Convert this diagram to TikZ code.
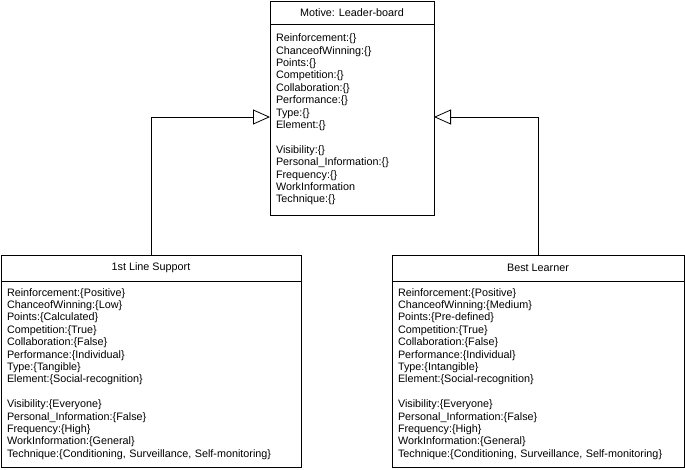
\documentclass[tikz,border=0pt]{standalone}
\usepackage{fontspec}
\setmainfont{Liberation Sans}
\usepackage{tikz}
\usetikzlibrary{arrows.meta,positioning}
\tikzset{
  every node/.append style={font=\fontsize{10.8}{12.4}\selectfont},
  classhead/.style={draw, line width=0.8pt, outer sep=0pt, inner sep=0pt, align=center},
  classattr/.style={draw, line width=0.8pt, outer sep=0pt, inner xsep=6pt, inner ysep=0pt, align=left},
  inherit/.style={-{Triangle[open, length=17pt, width=15pt]}, line width=0.8pt},
}
\begin{document}
\begin{tikzpicture}
  \useasboundingbox (0,0) rectangle (685pt,-470pt);
  % parent class
  \node[classhead, minimum width=164pt, minimum height=23pt] (motive) at (352pt,-12.5pt) {Motive: Leader-board};
  \node[classattr, below=0pt of motive, text width=152pt, minimum height=191pt] (motiveattr)
    {Reinforcement:\{\}\\ChanceofWinning:\{\}\\Points:\{\}\\Competition:\{\}\\Collaboration:\{\}\\Performance:\{\}\\Type:\{\}\\Element:\{\}\\[\baselineskip]
     Visibility:\{\}\\Personal\_Information:\{\}\\Frequency:\{\}\\WorkInformation\\Technique:\{\}};
  % child classes
  \node[classhead, minimum width=300pt, minimum height=26pt] (support) at (151pt,-268pt) {1st Line Support};
  \node[classattr, below=0pt of support, text width=288pt, minimum height=186pt] (supportattr)
    {Reinforcement:\{Positive\}\\ChanceofWinning:\{Low\}\\Points:\{Calculated\}\\Competition:\{True\}\\Collaboration:\{False\}\\Performance:\{Individual\}\\Type:\{Tangible\}\\Element:\{Social-recognition\}\\[\baselineskip]
     Visibility:\{Everyone\}\\Personal\_Information:\{False\}\\Frequency:\{High\}\\WorkInformation:\{General\}\\Technique:\{Conditioning, Surveillance, Self-monitoring\}};
  \node[classhead, minimum width=292pt, minimum height=26pt] (learner) at (538pt,-268pt) {Best Learner};
  \node[classattr, below=0pt of learner, text width=280pt, minimum height=186pt] (learnerattr)
    {Reinforcement:\{Positive\}\\ChanceofWinning:\{Medium\}\\Points:\{Pre-defined\}\\Competition:\{True\}\\Collaboration:\{False\}\\Performance:\{Individual\}\\Type:\{Intangible\}\\Element:\{Social-recognition\}\\[\baselineskip]
     Visibility:\{Everyone\}\\Personal\_Information:\{False\}\\Frequency:\{High\}\\WorkInformation:\{General\}\\Technique:\{Conditioning, Surveillance, Self-monitoring\}};
  % generalisation
  \draw[inherit] (support.north) |- ([yshift=2.5pt]motiveattr.west);
  \draw[inherit] (learner.north) |- ([yshift=2.5pt]motiveattr.east);
\end{tikzpicture}
\end{document}
